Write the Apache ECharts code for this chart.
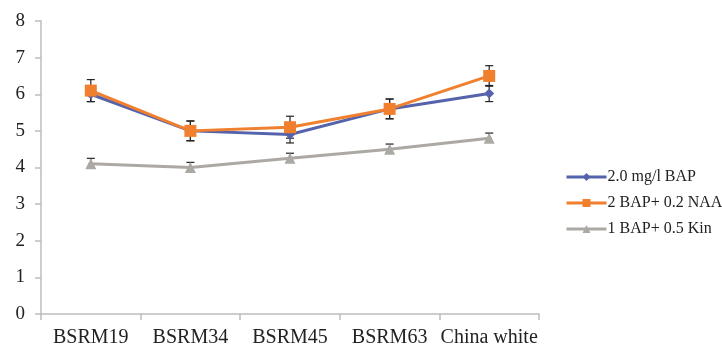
<!DOCTYPE html>
<html>
<head>
<meta charset="utf-8">
<script src="https://cdn.jsdelivr.net/npm/echarts@6/dist/echarts.min.js"></script>
<style>
html,body{margin:0;padding:0;background:#fff;}
#chart{width:722px;height:348px;}
</style>
</head>
<body>
<div id="chart"></div>
<script>
var categories = ['BSRM19', 'BSRM34', 'BSRM45', 'BSRM63', 'China white'];
var yTicks = [0, 1, 2, 3, 4, 5, 6, 7, 8];
var seriesNames = ['2.0 mg/l BAP', '2 BAP+ 0.2 NAA', '1 BAP+ 0.5 Kin'];
var bapValues = [6.0, 5.0, 4.9, 5.6, 6.02];
var naaValues = [6.1, 5.0, 5.1, 5.6, 6.5];
var kinValues = [4.1, 4.0, 4.25, 4.5, 4.8];
var bapErr = [0.2, 0.27, 0.23, 0.27, 0.22];
var naaErr = [0.3, 0.27, 0.3, 0.27, 0.28];
var kinErr = [0.15, 0.14, 0.14, 0.14, 0.14];

var colors = ['#5563AC', '#F07F2E', '#ACA9A4'];
var font = 'Liberation Serif';

function errSeries(vals, errs, plusOnly) {
  var data = vals.map(function (v, i) { return [i, v, errs[i]]; });
  return {
    type: 'custom',
    silent: true,
    z: 1,
    data: data,
    renderItem: function (params, api) {
      var x = api.value(0), v = api.value(1), e = api.value(2);
      var top = api.coord([x, v + e]);
      var bot = api.coord([x, plusOnly ? v : v - e]);
      var w = 4;
      var children = [
        {type: 'line', shape: {x1: top[0], y1: top[1], x2: bot[0], y2: bot[1]}, style: {stroke: '#222', lineWidth: 1.2}},
        {type: 'line', shape: {x1: top[0] - w, y1: top[1], x2: top[0] + w, y2: top[1]}, style: {stroke: '#222', lineWidth: 1.2}}
      ];
      if (!plusOnly) {
        children.push({type: 'line', shape: {x1: bot[0] - w, y1: bot[1], x2: bot[0] + w, y2: bot[1]}, style: {stroke: '#222', lineWidth: 1.2}});
      }
      return {type: 'group', children: children};
    }
  };
}

function lineSeries(name, vals, color, symbol, size) {
  return {
    name: name,
    type: 'line',
    data: vals,
    z: 3,
    symbol: symbol,
    symbolSize: size,
    showAllSymbol: true,
    lineStyle: {color: color, width: 3},
    itemStyle: {color: color, borderWidth: 0},
    emphasis: {disabled: true}
  };
}

var chart = echarts.init(document.getElementById('chart'));
chart.setOption({
  animation: false,
  backgroundColor: '#fff',
  textStyle: {fontFamily: font},
  grid: {left: 41, right: 183, top: 21, bottom: 33, containLabel: false},
  legend: {
    orient: 'vertical',
    left: 560,
    top: 164,
    itemWidth: 40,
    itemHeight: 10,
    itemGap: 10,
    data: seriesNames,
    lineStyle: {width: 3},
    textStyle: {fontFamily: font, fontSize: 16, color: '#222', padding: [0, 0, 0, -4]}
  },
  xAxis: {
    type: 'category',
    data: categories,
    boundaryGap: true,
    axisLine: {lineStyle: {color: '#BDBDBD', width: 1.5}},
    axisTick: {show: true, alignWithLabel: false, length: 6, lineStyle: {color: '#BDBDBD', width: 1.5}},
    axisLabel: {fontFamily: font, fontSize: 20, color: '#222', margin: 14, interval: 0},
    splitLine: {show: false}
  },
  yAxis: {
    type: 'value',
    min: yTicks[0],
    max: yTicks[yTicks.length - 1],
    interval: 1,
    axisLine: {show: true, lineStyle: {color: '#BDBDBD', width: 1.5}},
    axisTick: {show: true, length: 6, lineStyle: {color: '#BDBDBD', width: 1.5}},
    axisLabel: {fontFamily: font, fontSize: 19, color: '#222', margin: 16},
    splitLine: {show: false}
  },
  series: [
    errSeries(bapValues, bapErr, false),
    errSeries(naaValues, naaErr, false),
    errSeries(kinValues, kinErr, true),
    lineSeries(seriesNames[0], bapValues, colors[0], 'diamond', 10),
    lineSeries(seriesNames[1], naaValues, colors[1], 'rect', 12),
    lineSeries(seriesNames[2], kinValues, colors[2], 'triangle', 11)
  ]
});
</script>
</body>
</html>
